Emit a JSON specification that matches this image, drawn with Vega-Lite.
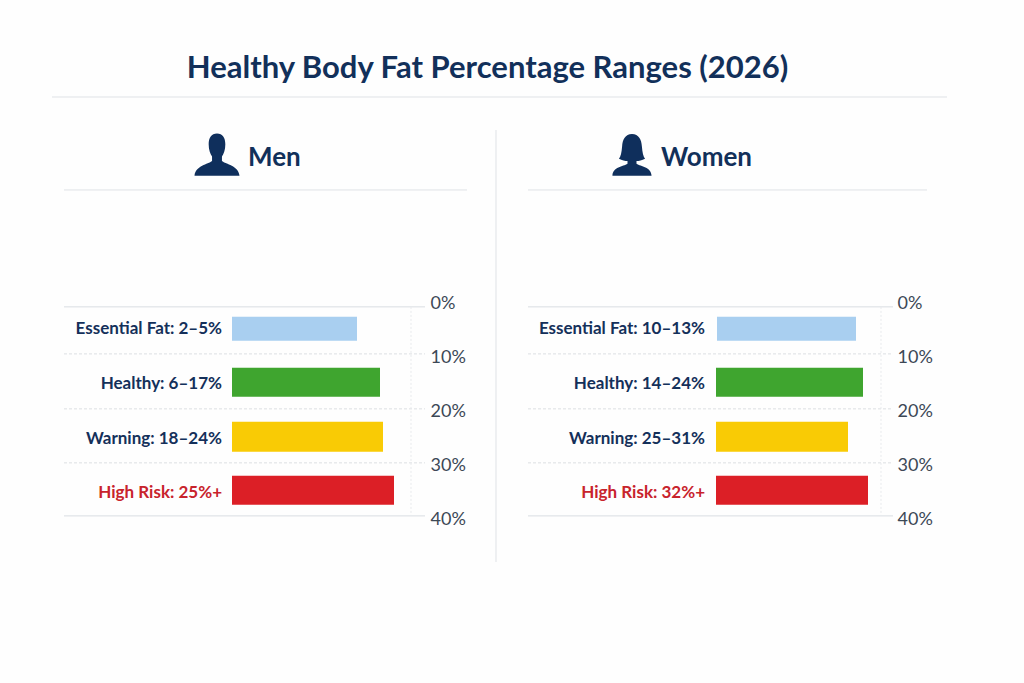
{
"$schema":"https://vega.github.io/schema/vega-lite/v6.json",
"background":"#fefefe",
"padding":{"left":51,"top":53,"right":77,"bottom":121},
"bounds":"flush",
"spacing":32,
"config":{"view":{"stroke":null},"font":"Lato"},
"datasets":{
"men":[
{"label":"Essential Fat: 2–5%","category":"Essential Fat","start":0,"end":125,"top":2.4,"bottom":6.85,"mid":4.6},
{"label":"Healthy: 6–17%","category":"Healthy","start":0,"end":148,"top":11.85,"bottom":17.2,"mid":14.8},
{"label":"Warning: 18–24%","category":"Warning","start":0,"end":151,"top":21.85,"bottom":27.4,"mid":25},
{"label":"High Risk: 25%+","category":"High Risk","start":0,"end":162,"top":31.85,"bottom":37.2,"mid":35}],
"women":[
{"label":"Essential Fat: 10–13%","category":"Essential Fat","start":1,"end":140,"top":2.4,"bottom":6.85,"mid":4.6},
{"label":"Healthy: 14–24%","category":"Healthy","start":0,"end":147,"top":11.85,"bottom":17.2,"mid":14.8},
{"label":"Warning: 25–31%","category":"Warning","start":0,"end":132,"top":21.85,"bottom":27.4,"mid":25},
{"label":"High Risk: 32%+","category":"High Risk","start":0,"end":152,"top":31.85,"bottom":37.2,"mid":35}],
"one":[{"note":"annotation"}]
},
"vconcat":[
{"width":895,"height":2,
"data":{"name":"one"},
"title":{"text":"Healthy Body Fat Percentage Ranges (2026)","font":"Lato","fontSize":31,"fontWeight":"bold","color":"#12305a","anchor":"middle","dx":-12,"offset":11},
"mark":{"type":"rule","color":"#dfe2e6","strokeWidth":1},
"encoding":{"x":{"datum":0,"type":"quantitative","scale":{"domain":[0,1]},"axis":null},"x2":{"datum":1}}},
{"hconcat":[
{"width":415,"height":432,
"data":{"name":"one"},
"layer":[
{"mark":{"type":"rule","color":"#d9dde2","strokeWidth":1},"data":{"values":[{"boundary":0.55},{"boundary":39.26}]},
"encoding":{"x":{"datum":-168,"type":"quantitative","scale":{"domain":[-180,235],"nice":false,"zero":false},"axis":null},"x2":{"datum":193},
"y":{"field":"boundary","type":"quantitative","scale":{"domain":[-32.2,47.8],"reverse":true,"nice":false,"zero":false},
"axis":{"orient":"right","offset":-37,"values":[0,10,20,30,40],"labelExpr":"datum.value+'%'","domain":false,"ticks":false,"grid":false,"title":null,"labelPadding":0,"labelFont":"Lato","labelFontSize":18,"labelColor":"#3c4856","labelAlign":"left","labelBaseline":"middle"}}}},
{"mark":{"type":"rule","color":"#dcdfe3","strokeWidth":1,"strokeDash":[3,2]},"data":{"values":[{"boundary":9.26},{"boundary":19.44},{"boundary":29.44}]},
"encoding":{"x":{"datum":-168,"type":"quantitative"},"x2":{"datum":193},"y":{"field":"boundary","type":"quantitative"}}},
{"mark":{"type":"rule","color":"#e8eaed","strokeWidth":1,"strokeDash":[2,2]},"encoding":{"x":{"datum":179,"type":"quantitative"},"y":{"datum":0.55,"type":"quantitative"},"y2":{"datum":39.26}}},
{"mark":{"type":"rule","color":"#dfe2e6","strokeWidth":1},"encoding":{"x":{"datum":-168,"type":"quantitative"},"x2":{"datum":235},"y":{"datum":-21.1,"type":"quantitative"}}},
{"mark":{"type":"point","filled":true,"color":"#0f2f5c","opacity":1,"size":2025,"shape":"M0,-0.92 C0.25,-0.92 0.37,-0.72 0.37,-0.45 C0.37,-0.2 0.3,-0.02 0.22,0.1 L0.22,0.3 C0.4,0.45 0.95,0.5 1,0.95 L-1,0.95 C-0.95,0.5 -0.4,0.45 -0.22,0.3 L-0.22,0.1 C-0.3,-0.02 -0.37,-0.2 -0.37,-0.45 C-0.37,-0.72 -0.25,-0.92 0,-0.92 Z"},"encoding":{"x":{"datum":-15,"type":"quantitative"},"y":{"datum":-27.7,"type":"quantitative"}}},
{"mark":{"type":"text","text":"Men","align":"left","baseline":"middle","font":"Lato","fontWeight":"bold","fontSize":26,"color":"#12305a"},"encoding":{"x":{"datum":16,"type":"quantitative"},"y":{"datum":-27,"type":"quantitative"}}},
{"data":{"name":"men"},"mark":{"type":"bar"},"encoding":{"x":{"field":"start","type":"quantitative"},"x2":{"field":"end"},"y":{"field":"top","type":"quantitative"},"y2":{"field":"bottom"},
"color":{"field":"category","type":"nominal","legend":null,"scale":{"domain":["Essential Fat","Healthy","Warning","High Risk"],"range":["#a9cff0","#3fa52f","#f9cb05","#dc1f26"]}}}},
{"data":{"name":"men"},"mark":{"type":"text","align":"right","baseline":"middle","dx":-10,"font":"Lato","fontWeight":"bold","fontSize":17},"encoding":{"x":{"datum":0,"type":"quantitative"},"y":{"field":"mid","type":"quantitative"},"text":{"field":"label"},
"color":{"condition":{"test":"datum.category==='High Risk'","value":"#c8232c"},"value":"#14305a"}}}
]},
{"width":431,"height":432,
"data":{"name":"one"},
"layer":[
{"mark":{"type":"rule","color":"#d9dde2","strokeWidth":1},"data":{"values":[{"boundary":0.55},{"boundary":39.26}]},
"encoding":{"x":{"datum":-188,"type":"quantitative","scale":{"domain":[-220,211],"nice":false,"zero":false},"axis":null},"x2":{"datum":177},
"y":{"field":"boundary","type":"quantitative","scale":{"domain":[-32.2,47.8],"reverse":true,"nice":false,"zero":false},
"axis":{"orient":"right","offset":-30,"values":[0,10,20,30,40],"labelExpr":"datum.value+'%'","domain":false,"ticks":false,"grid":false,"title":null,"labelPadding":0,"labelFont":"Lato","labelFontSize":18,"labelColor":"#3c4856","labelAlign":"left","labelBaseline":"middle"}}}},
{"mark":{"type":"rule","color":"#dcdfe3","strokeWidth":1,"strokeDash":[3,2]},"data":{"values":[{"boundary":9.26},{"boundary":19.44},{"boundary":29.44}]},
"encoding":{"x":{"datum":-188,"type":"quantitative"},"x2":{"datum":177},"y":{"field":"boundary","type":"quantitative"}}},
{"mark":{"type":"rule","color":"#e8eaed","strokeWidth":1,"strokeDash":[2,2]},"encoding":{"x":{"datum":165,"type":"quantitative"},"y":{"datum":0.55,"type":"quantitative"},"y2":{"datum":39.26}}},
{"mark":{"type":"rule","color":"#dfe2e6","strokeWidth":1},"encoding":{"x":{"datum":-188,"type":"quantitative"},"x2":{"datum":211},"y":{"datum":-21.1,"type":"quantitative"}}},
{"mark":{"type":"rule","color":"#dfe2e6","strokeWidth":1},"encoding":{"x":{"datum":-220,"type":"quantitative"},"y":{"datum":-32.2,"type":"quantitative"},"y2":{"datum":47.8}}},
{"mark":{"type":"point","filled":true,"color":"#0f2f5c","opacity":1,"size":2025,"shape":"M0,-0.9 C0.3,-0.9 0.42,-0.65 0.44,-0.35 C0.46,-0.1 0.5,0.1 0.58,0.2 C0.45,0.28 0.3,0.3 0.2,0.3 L0.2,0.42 C0.4,0.55 0.85,0.55 0.87,0.95 L-0.87,0.95 C-0.85,0.55 -0.4,0.55 -0.2,0.42 L-0.2,0.3 C-0.3,0.3 -0.45,0.28 -0.58,0.2 C-0.5,0.1 -0.46,-0.1 -0.44,-0.35 C-0.42,-0.65 -0.3,-0.9 0,-0.9 Z"},"encoding":{"x":{"datum":-84,"type":"quantitative"},"y":{"datum":-27.7,"type":"quantitative"}}},
{"mark":{"type":"text","text":"Women","align":"left","baseline":"middle","font":"Lato","fontWeight":"bold","fontSize":26,"color":"#12305a"},"encoding":{"x":{"datum":-55,"type":"quantitative"},"y":{"datum":-27,"type":"quantitative"}}},
{"data":{"name":"women"},"mark":{"type":"bar"},"encoding":{"x":{"field":"start","type":"quantitative"},"x2":{"field":"end"},"y":{"field":"top","type":"quantitative"},"y2":{"field":"bottom"},
"color":{"field":"category","type":"nominal","legend":null,"scale":{"domain":["Essential Fat","Healthy","Warning","High Risk"],"range":["#a9cff0","#3fa52f","#f9cb05","#dc1f26"]}}}},
{"data":{"name":"women"},"mark":{"type":"text","align":"right","baseline":"middle","dx":-11,"font":"Lato","fontWeight":"bold","fontSize":17},"encoding":{"x":{"datum":0,"type":"quantitative"},"y":{"field":"mid","type":"quantitative"},"text":{"field":"label"},
"color":{"condition":{"test":"datum.category==='High Risk'","value":"#c8232c"},"value":"#14305a"}}}
]}
],"spacing":29,"bounds":"flush","resolve":{"scale":{"color":"independent"}}}
]
}
